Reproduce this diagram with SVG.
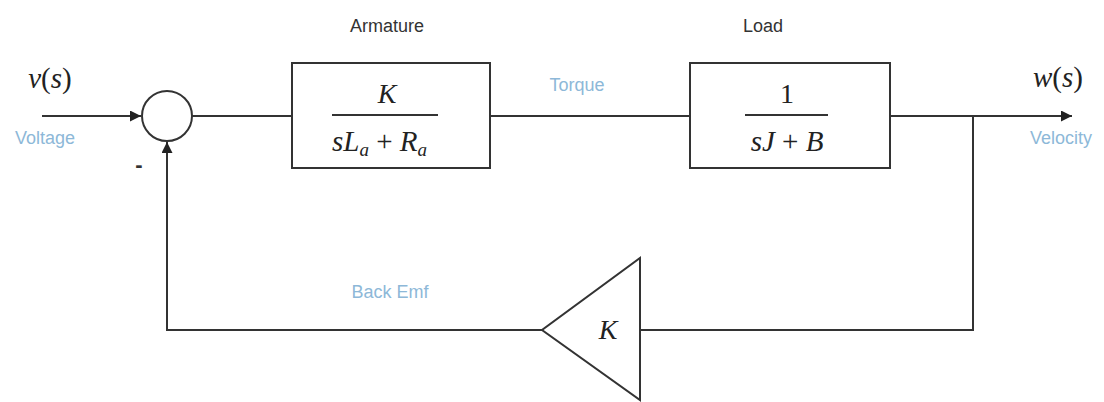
<svg xmlns="http://www.w3.org/2000/svg" width="1104" height="402" viewBox="0 0 1104 402">
<style>
.ln{fill:none;stroke:#333;stroke-width:2}
.box{fill:#fff;stroke:#333;stroke-width:2}
.lbl{font-family:"Liberation Sans",Arial,sans-serif;font-size:18px;fill:#333;text-anchor:middle}
.sig{font-family:"Liberation Sans",Arial,sans-serif;font-size:18px;fill:#8db8d8;text-anchor:middle}
.m{font-family:"Liberation Serif","Times New Roman",serif;font-style:italic;fill:#222}
.n{font-family:"Liberation Serif","Times New Roman",serif;fill:#222}
</style>
<defs>
<marker id="ar" viewBox="0 0 10 10" refX="10" refY="5" markerWidth="11" markerHeight="11" markerUnits="userSpaceOnUse" orient="auto">
<path d="M0,0 L10,5 L0,10 z" fill="#222"/>
</marker>
</defs>
<rect width="1104" height="402" fill="#fff"/>
<g id="connectors">
<line class="ln" x1="42" y1="116" x2="141" y2="116" marker-end="url(#ar)"/>
<line class="ln" x1="192" y1="116" x2="292" y2="116"/>
<line class="ln" x1="490" y1="116" x2="690" y2="116"/>
<line class="ln" x1="890" y1="116" x2="1072" y2="116" marker-end="url(#ar)"/>
<polyline class="ln" points="973,116 973,330 640,330"/>
<polyline class="ln" points="542,330 167,330 167,142" marker-end="url(#ar)"/>
</g>
<g id="sum">
<circle class="box" cx="167" cy="116" r="25"/>
<text class="lbl" x="139" y="172" style="font-weight:bold;font-size:22px">-</text>
</g>
<g id="armature">
<rect class="box" x="292" y="63" width="198" height="105"/>
<text class="m" x="387" y="103" text-anchor="middle" font-size="28">K</text>
<line class="ln" x1="332" y1="115" x2="438" y2="115"/>
<text class="m" x="332" y="151" font-size="29">s<tspan>L</tspan><tspan font-size="19" dy="5">a</tspan><tspan class="n" font-style="normal" dy="-5"> + </tspan><tspan>R</tspan><tspan font-size="19" dy="5">a</tspan></text>
<text class="lbl" x="387" y="32">Armature</text>
</g>
<g id="load">
<rect class="box" x="690" y="63" width="200" height="105"/>
<text class="n" x="787" y="103" text-anchor="middle" font-size="28">1</text>
<line class="ln" x1="745" y1="115" x2="828" y2="115"/>
<text class="m" x="787" y="151" text-anchor="middle" font-size="29">sJ<tspan class="n" font-style="normal"> + </tspan>B</text>
<text class="lbl" x="763" y="32">Load</text>
</g>
<g id="gain">
<polygon class="box" points="640,258 640,400 542,330"/>
<text class="m" x="608" y="339" text-anchor="middle" font-size="28">K</text>
</g>
<g id="labels">
<text class="m" x="50" y="88" text-anchor="middle" font-size="29">v<tspan class="n" font-style="normal">(</tspan>s<tspan class="n" font-style="normal">)</tspan></text>
<text class="m" x="1058" y="87" text-anchor="middle" font-size="29">w<tspan class="n" font-style="normal">(</tspan>s<tspan class="n" font-style="normal">)</tspan></text>
<text class="sig" x="45" y="144">Voltage</text>
<text class="sig" x="1061" y="144">Velocity</text>
<text class="sig" x="577" y="91">Torque</text>
<text class="sig" x="390" y="298">Back Emf</text>
</g>
</svg>
